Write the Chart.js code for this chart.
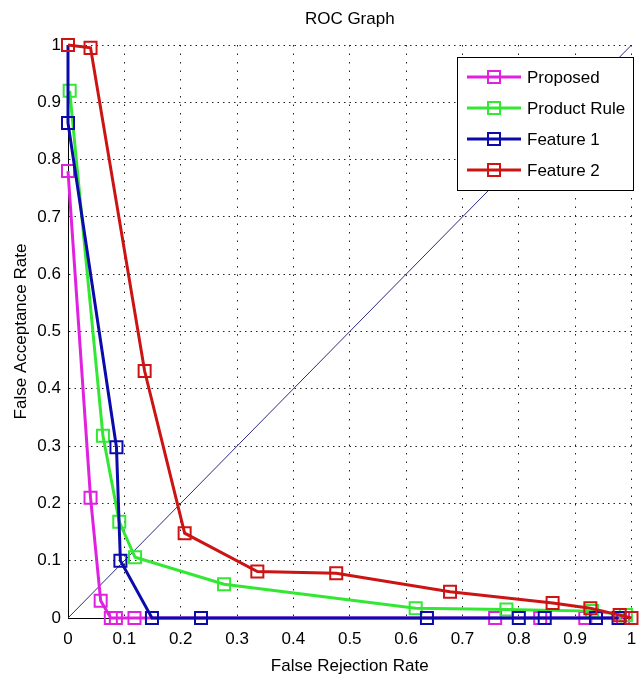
<!DOCTYPE html>
<html>
<head>
<meta charset="utf-8">
<script src="https://cdn.jsdelivr.net/npm/chart.js@4"></script>
<style>
  html, body { margin: 0; padding: 0; background: #fff; }
</style>
</head>
<body>
<canvas id="roc" width="642" height="683"></canvas>
<script>
// DATA
const seriesNames = ["Proposed", "Product Rule", "Feature 1", "Feature 2"];
const tickLabels = ["0", "0.1", "0.2", "0.3", "0.4", "0.5", "0.6", "0.7", "0.8", "0.9", "1"];

const proposedX = [0, 0.04, 0.058, 0.076, 0.085, 0.118, 0.758, 0.838, 0.918, 0.985];
const proposedY = [0.78, 0.21, 0.03, 0, 0, 0, 0, 0, 0, 0];

const productX = [0.003, 0.062, 0.091, 0.119, 0.277, 0.617, 0.778, 0.93, 0.99];
const productY = [0.92, 0.318, 0.168, 0.106, 0.059, 0.017, 0.015, 0.012, 0.005];

const feature1X = [0, 0, 0.086, 0.093, 0.149, 0.236, 0.637, 0.8, 0.846, 0.937, 0.977];
const feature1Y = [1, 0.864, 0.298, 0.1, 0, 0, 0, 0, 0, 0, 0];

const feature2X = [0, 0.04, 0.136, 0.207, 0.336, 0.476, 0.678, 0.86, 0.927, 0.979, 1.0];
const feature2Y = [1, 0.995, 0.431, 0.148, 0.081, 0.078, 0.046, 0.026, 0.017, 0.005, 0];

const chanceX = [0, 1];
const chanceY = [0, 1];

const colors = ["#e021e0", "#33e833", "#0b0bab", "#cc1414"];
const FONT = "'Liberation Sans Narrow', 'Liberation Sans', Arial, sans-serif";
const FONT_SIZE = 17;

function toPoints(xs, ys) {
  return xs.map((x, i) => ({ x: x, y: ys[i] }));
}

function series(i, xs, ys, order) {
  return {
    label: seriesNames[i],
    data: toPoints(xs, ys),
    showLine: true,
    borderColor: colors[i],
    borderWidth: 3,
    pointStyle: "rect",
    pointRadius: 8.5,
    pointBorderWidth: 2,
    pointBorderColor: colors[i],
    pointBackgroundColor: "rgba(0,0,0,0)",
    tension: 0,
    clip: 12,
    order: order,
  };
}

// title above the plot
const titlePlugin = {
  id: "rocTitle",
  afterDraw(chart) {
    const { ctx, chartArea } = chart;
    ctx.save();
    ctx.font = FONT_SIZE + "px " + FONT;
    ctx.fillStyle = "#000";
    ctx.textAlign = "center";
    ctx.textBaseline = "middle";
    ctx.fillText("ROC Graph", (chartArea.left + chartArea.right) / 2, 19);
    ctx.restore();
  },
};

// matlab style legend box in top right corner
const legendPlugin = {
  id: "rocLegend",
  afterDraw(chart) {
    const ctx = chart.ctx;
    const left = 457, top = 57, w = 176, h = 133;
    ctx.save();
    ctx.fillStyle = "#fff";
    ctx.fillRect(left, top, w, h);
    ctx.strokeStyle = "#000";
    ctx.lineWidth = 1;
    ctx.strokeRect(left + 0.5, top + 0.5, w, h);
    ctx.font = FONT_SIZE + "px " + FONT;
    ctx.textBaseline = "middle";
    ctx.textAlign = "left";
    seriesNames.forEach((name, i) => {
      const y = 77 + i * 31;
      ctx.strokeStyle = colors[i];
      ctx.lineWidth = 3;
      ctx.beginPath();
      ctx.moveTo(467, y);
      ctx.lineTo(521, y);
      ctx.stroke();
      ctx.lineWidth = 2;
      ctx.strokeRect(488, y - 6, 12, 12);
      ctx.fillStyle = "#000";
      ctx.fillText(name, 527, y + 1);
    });
    ctx.restore();
  },
};

const ctx = document.getElementById("roc").getContext("2d");

new Chart(ctx, {
  type: "scatter",
  data: {
    datasets: [
      series(0, proposedX, proposedY, 4),
      series(1, productX, productY, 3),
      series(2, feature1X, feature1Y, 2),
      series(3, feature2X, feature2Y, 1),
      {
        label: "chance",
        data: toPoints(chanceX, chanceY),
        showLine: true,
        borderColor: "#2b2b80",
        borderWidth: 1,
        pointRadius: 0,
        order: 5,
      },
    ],
  },
  options: {
    responsive: false,
    animation: false,
    layout: { padding: { top: 45, right: 2, left: 0, bottom: 0 } },
    plugins: {
      legend: { display: false },
      title: { display: false },
      tooltip: { enabled: false },
    },
    scales: {
      x: {
        type: "linear",
        min: 0,
        max: 1,
        afterFit: (scale) => {
          scale.height = 65;
          scale.paddingLeft = 0;
          scale.paddingRight = 0;
        },
        ticks: {
          stepSize: 0.1,
          autoSkip: false,
          padding: 11,
          color: "#000",
          font: { family: FONT, size: FONT_SIZE },
          callback: (value, index) => tickLabels[index],
        },
        grid: { color: "#222", lineWidth: 1, drawTicks: false },
        border: { display: true, color: "#000", width: 1, dash: [1.5, 7] },
        title: {
          display: true,
          text: "False Rejection Rate",
          color: "#000",
          font: { family: FONT, size: FONT_SIZE },
          padding: { top: 0, bottom: 6 },
        },
      },
      y: {
        type: "linear",
        min: 0,
        max: 1,
        afterFit: (scale) => {
          scale.width = 68;
          scale.paddingTop = 0;
          scale.paddingBottom = 0;
        },
        ticks: {
          stepSize: 0.1,
          autoSkip: false,
          padding: 7,
          color: "#000",
          font: { family: FONT, size: FONT_SIZE },
          callback: (value, index) => tickLabels[index],
        },
        grid: { color: "#222", lineWidth: 1, drawTicks: false },
        border: { display: true, color: "#000", width: 1, dash: [1.5, 4] },
        title: {
          display: true,
          text: "False Acceptance Rate",
          color: "#000",
          font: { family: FONT, size: FONT_SIZE },
          padding: { top: 11, bottom: 0 },
        },
      },
    },
  },
  plugins: [titlePlugin, legendPlugin],
});
</script>
</body>
</html>
